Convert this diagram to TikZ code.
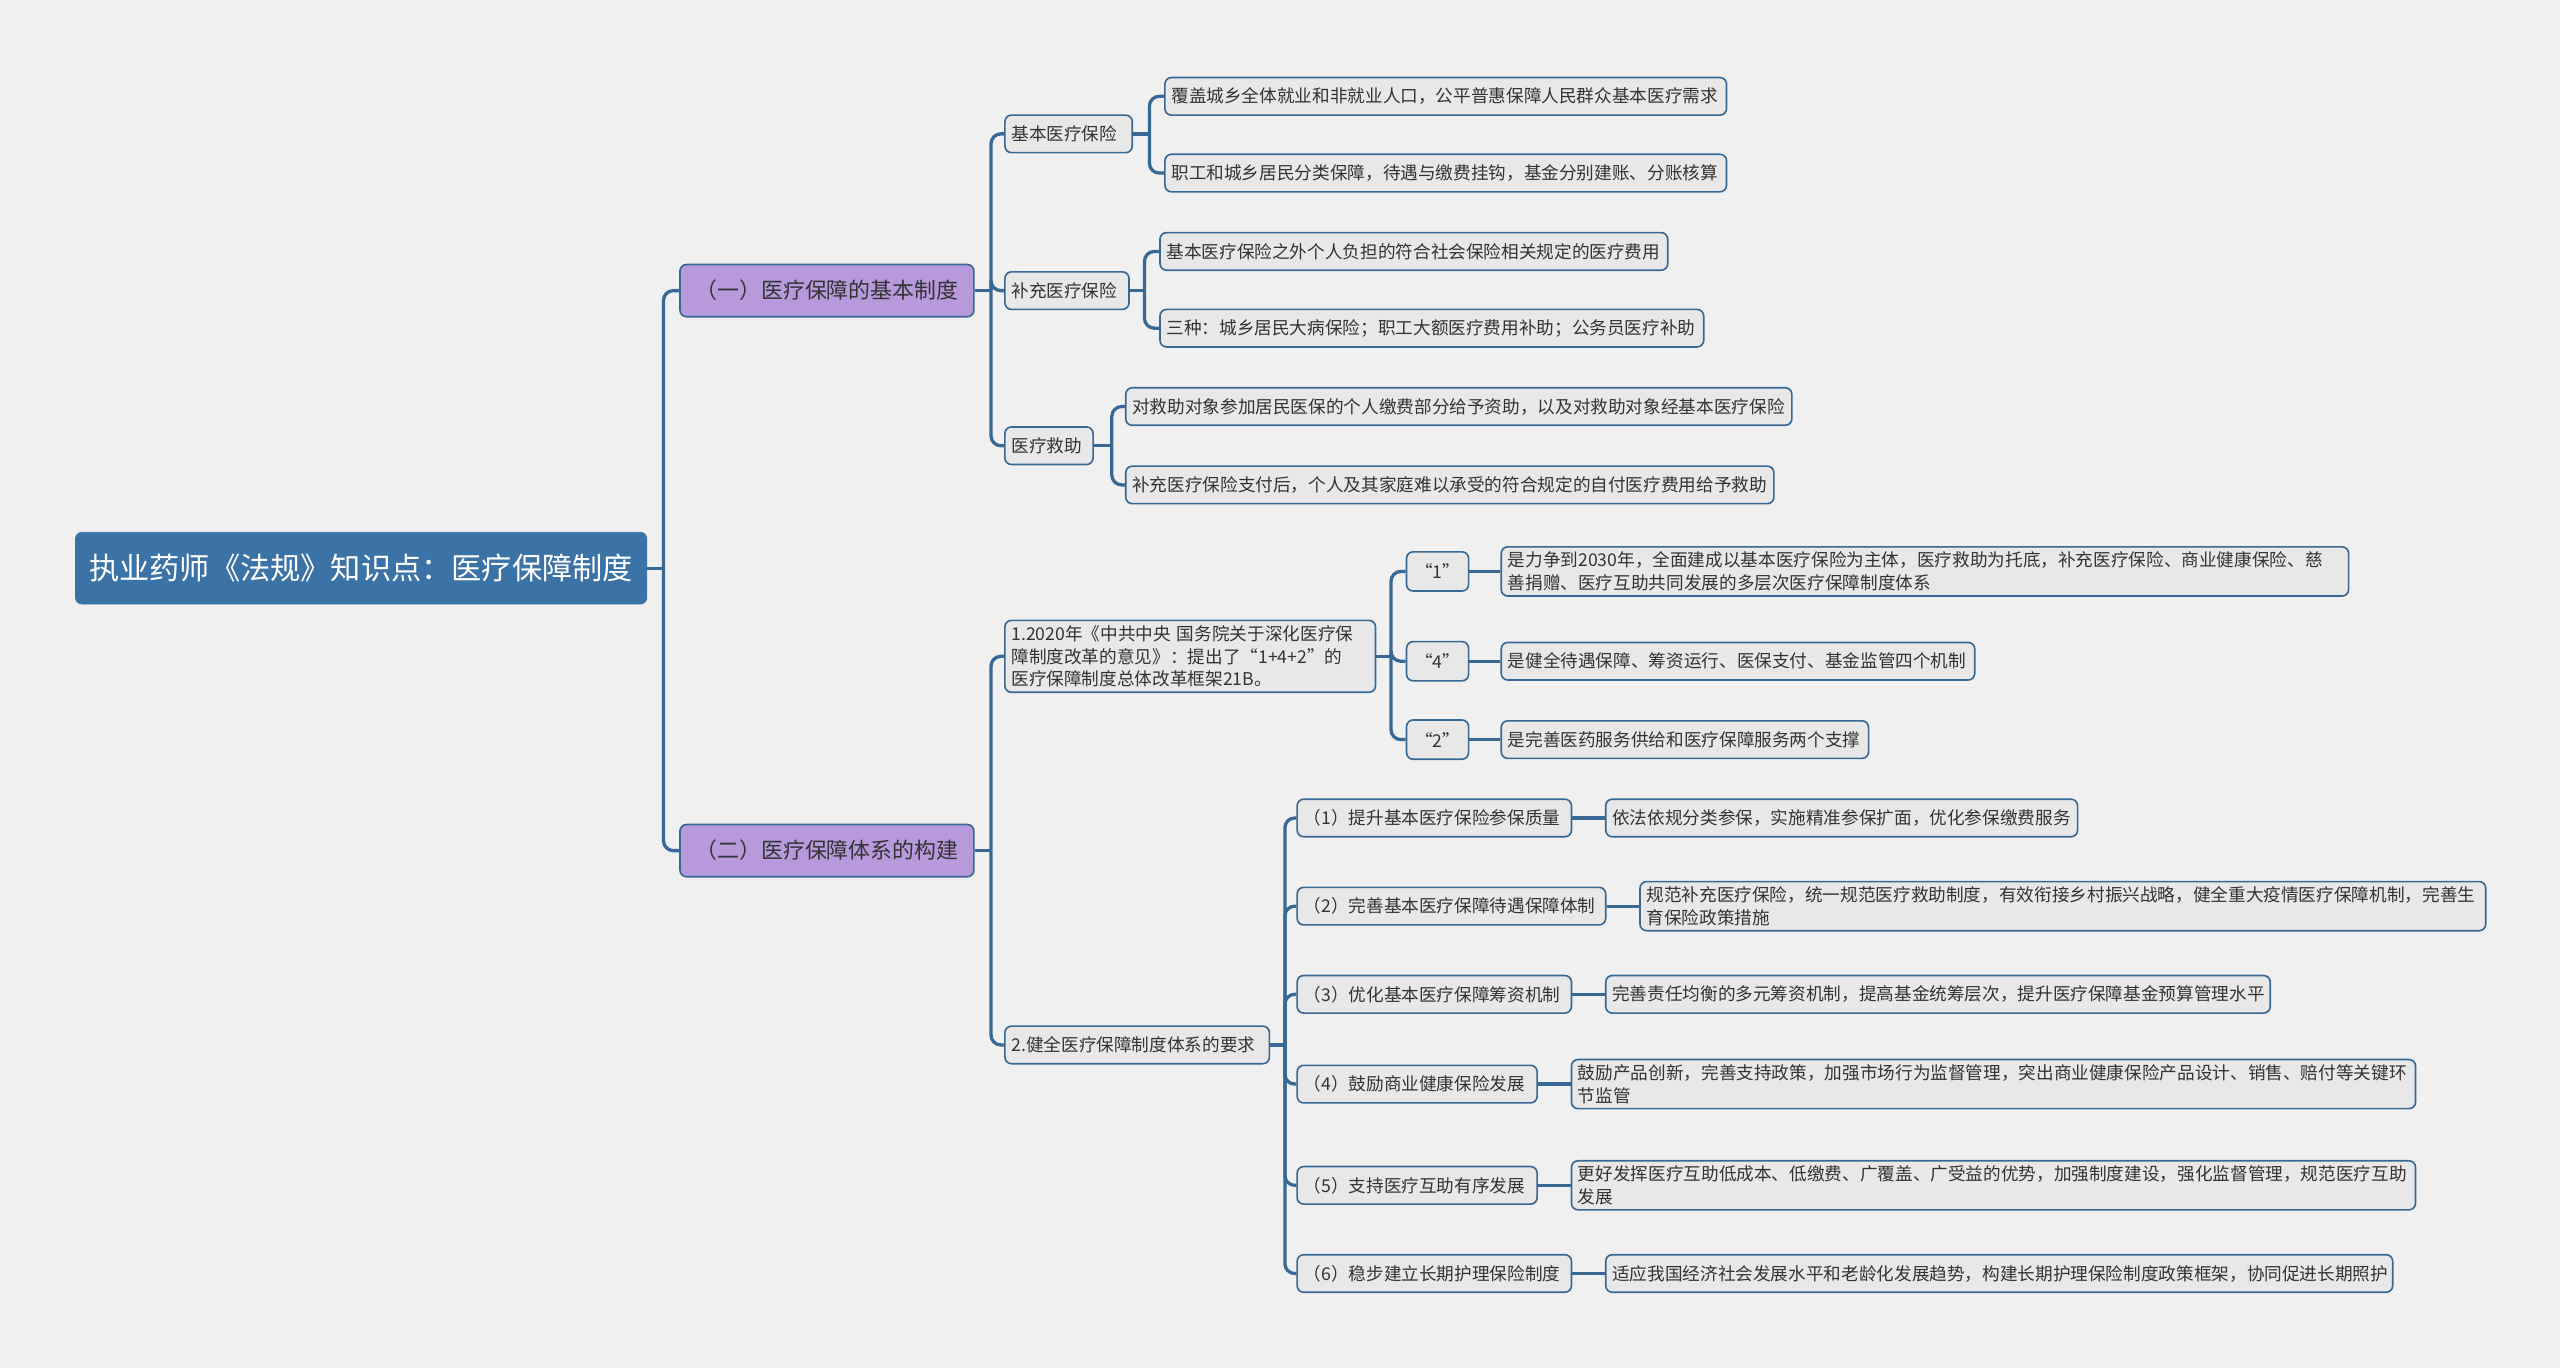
\documentclass[tikz,border=0pt]{standalone}
\usepackage{fontspec}
\setmainfont{Noto Sans CJK SC}
\usepackage{xcolor}
\usepackage{tikz}
\usetikzlibrary{positioning}
\definecolor{bgcolor}{RGB}{240, 240, 240}
\definecolor{linecolor}{RGB}{56, 104, 148}
\definecolor{rootcolor}{RGB}{60, 115, 166}
\definecolor{seccolor}{RGB}{184, 153, 220}
\definecolor{boxcolor}{RGB}{232, 232, 232}
\definecolor{inkcolor}{RGB}{51, 51, 51}

\begin{document}
\begin{tikzpicture}[
    x=1pt, y=-1pt,
    rootbox/.style={rectangle, draw=rootcolor, fill=rootcolor, rounded corners=4pt, text=white, anchor=west, align=center, text width=334pt, inner xsep=8pt, minimum height=44pt, font=\fontsize{18.5}{22}\selectfont},
    secbox/.style={rectangle, draw=linecolor, fill=seccolor, line width=1pt, rounded corners=4pt, text=inkcolor, anchor=west, align=center, text width=170pt, inner xsep=5pt, minimum height=32pt, font=\fontsize{13.4}{16}\selectfont},
    topic/.style={rectangle, draw=linecolor, fill=boxcolor, line width=1pt, rounded corners=4pt, text=inkcolor, anchor=west, align=left, text width=#1, inner xsep=4pt, inner ysep=3pt, minimum height=23pt, font=\fontsize{10.8}{14}\selectfont},
    quote/.style={topic=30pt, align=center, minimum height=24pt},
    link/.style={draw=linecolor, line width=2pt, rounded corners=6pt}
]

\fill[bgcolor] (0,0) rectangle (1568,838);
\useasboundingbox (0,0) rectangle (1568,838);

% Root
\node[rootbox] (root) at (46,348) {执业药师《法规》知识点：医疗保障制度};

% Sections
\node[secbox] (secA) at (416,178) {（一）医疗保障的基本制度};
\node[secbox] (secB) at (416,521) {（二）医疗保障体系的构建};

% Section one
\node[topic=70pt] (a1) at (615,82) {基本医疗保险};
\node[topic=68pt] (a2) at (615,178) {补充医疗保险};
\node[topic=46pt] (a3) at (615,273) {医疗救助};

\node[topic=336pt] (a1x) at (713,59) {覆盖城乡全体就业和非就业人口，公平普惠保障人民群众基本医疗需求};
\node[topic=336pt] (a1y) at (713,106) {职工和城乡居民分类保障，待遇与缴费挂钩，基金分别建账、分账核算};
\node[topic=303pt] (a2x) at (710,154) {基本医疗保险之外个人负担的符合社会保险相关规定的医疗费用};
\node[topic=325pt] (a2y) at (710,201) {三种：城乡居民大病保险；职工大额医疗费用补助；公务员医疗补助};
\node[topic=400pt] (a3x) at (689,249) {对救助对象参加居民医保的个人缴费部分给予资助，以及对救助对象经基本医疗保险};
\node[topic=389pt] (a3y) at (689,297) {补充医疗保险支付后，个人及其家庭难以承受的符合规定的自付医疗费用给予救助};

% Section two
\node[topic=219pt] (b1) at (615,402) {1.2020年《中共中央 国务院关于深化医疗保\\障制度改革的意见》：提出了“1+4+2”的\\医疗保障制度总体改革框架21B。};
\node[topic=154pt] (b2) at (615,640) {2.健全医疗保障制度体系的要求};

\node[quote] (q1) at (861,350) {“1”};
\node[quote] (q4) at (861,405) {“4”};
\node[quote] (q2) at (861,453) {“2”};

\node[topic=511pt] (q1x) at (919,350) {是力争到2030年，全面建成以基本医疗保险为主体，医疗救助为托底，补充医疗保险、商业健康保险、慈\\善捐赠、医疗互助共同发展的多层次医疗保障制度体系};
\node[topic=282pt] (q4x) at (919,405) {是健全待遇保障、筹资运行、医保支付、基金监管四个机制};
\node[topic=217pt] (q2x) at (919,453) {是完善医药服务供给和医疗保障服务两个支撑};

\node[topic=160pt] (r1) at (794,501) {（1）提升基本医疗保险参保质量};
\node[topic=181pt] (r2) at (794,555) {（2）完善基本医疗保障待遇保障体制};
\node[topic=160pt] (r3) at (794,609) {（3）优化基本医疗保障筹资机制};
\node[topic=139pt] (r4) at (794,664) {（4）鼓励商业健康保险发展};
\node[topic=139pt] (r5) at (794,726) {（5）支持医疗互助有序发展};
\node[topic=160pt] (r6) at (794,780) {（6）稳步建立长期护理保险制度};

\node[topic=281pt] (r1x) at (983,501) {依法依规分类参保，实施精准参保扩面，优化参保缴费服务};
\node[topic=510pt] (r2x) at (1004,555) {规范补充医疗保险，统一规范医疗救助制度，有效衔接乡村振兴战略，健全重大疫情医疗保障机制，完善生\\育保险政策措施};
\node[topic=399pt] (r3x) at (983,609) {完善责任均衡的多元筹资机制，提高基金统筹层次，提升医疗保障基金预算管理水平};
\node[topic=509pt] (r4x) at (962,664) {鼓励产品创新，完善支持政策，加强市场行为监督管理，突出商业健康保险产品设计、销售、赔付等关键环\\节监管};
\node[topic=509pt] (r5x) at (962,726) {更好发挥医疗互助低成本、低缴费、广覆盖、广受益的优势，加强制度建设，强化监督管理，规范医疗互助\\发展};
\node[topic=474pt] (r6x) at (983,780) {适应我国经济社会发展水平和老龄化发展趋势，构建长期护理保险制度政策框架，协同促进长期照护};

% Connectors
\draw[link] (root.east) -- ++(10,0) coordinate (hub0);
\draw[link] (hub0) |- (secA.west);
\draw[link] (hub0) |- (secB.west);

\draw[link] (secA.east) -- ++(10,0) coordinate (hubA);
\draw[link] (hubA) |- (a1.west);
\draw[link] (hubA) |- (a2.west);
\draw[link] (hubA) |- (a3.west);

\draw[link] (a1.east) -- ++(10,0) coordinate (hubA1);
\draw[link] (hubA1) |- (a1x.west);
\draw[link] (hubA1) |- (a1y.west);
\draw[link] (a2.east) -- ++(9,0) coordinate (hubA2);
\draw[link] (hubA2) |- (a2x.west);
\draw[link] (hubA2) |- (a2y.west);
\draw[link] (a3.east) -- ++(11,0) coordinate (hubA3);
\draw[link] (hubA3) |- (a3x.west);
\draw[link] (hubA3) |- (a3y.west);

\draw[link] (secB.east) -- ++(10,0) coordinate (hubB);
\draw[link] (hubB) |- (b1.west);
\draw[link] (hubB) |- (b2.west);

\draw[link] (b1.east) -- ++(9,0) coordinate (hubB1);
\draw[link] (hubB1) |- (q1.west);
\draw[link] (hubB1) |- (q4.west);
\draw[link] (hubB1) |- (q2.west);
\draw[link] (q1) -- (q1x);
\draw[link] (q4) -- (q4x);
\draw[link] (q2) -- (q2x);

\draw[link] (b2.east) -- ++(9,0) coordinate (hubB2);
\draw[link] (hubB2) |- (r1.west);
\draw[link] (hubB2) |- (r2.west);
\draw[link] (hubB2) |- (r3.west);
\draw[link] (hubB2) |- (r4.west);
\draw[link] (hubB2) |- (r5.west);
\draw[link] (hubB2) |- (r6.west);
\draw[link] (r1) -- (r1x);
\draw[link] (r2) -- (r2x);
\draw[link] (r3) -- (r3x);
\draw[link] (r4) -- (r4x);
\draw[link] (r5) -- (r5x);
\draw[link] (r6) -- (r6x);

\end{tikzpicture}
\end{document}
